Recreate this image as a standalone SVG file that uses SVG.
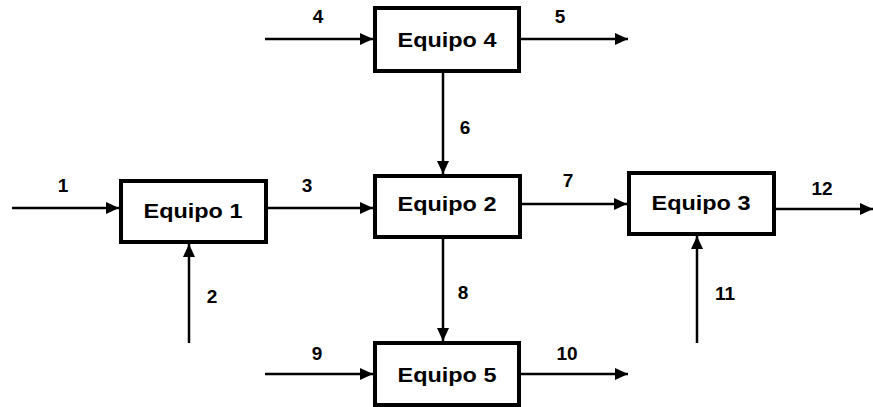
<svg xmlns="http://www.w3.org/2000/svg" width="873" height="407" viewBox="0 0 873 407">
<style>
.box{fill:#fff;stroke:#000;stroke-width:4}
.nt{font-family:"Liberation Sans",Arial,sans-serif;font-weight:bold;font-size:21px;text-anchor:middle;fill:#000}
.lb{font-family:"Liberation Sans",Arial,sans-serif;font-weight:bold;font-size:19px;text-anchor:middle;fill:#000}
.c{stroke:#000;stroke-width:2.5;fill:none;marker-end:url(#ah)}
</style>
<defs>
<marker id="ah" markerUnits="userSpaceOnUse" markerWidth="14" markerHeight="12" refX="13" refY="6" orient="auto">
<path d="M0,0 L13,6 L0,12 Z" fill="#000"/>
</marker>
</defs>
<rect width="873" height="407" fill="#fff"/>
<g id="connectors">
<line class="c" x1="12" y1="208" x2="119" y2="208"/>
<line class="c" x1="189" y1="343" x2="189" y2="244"/>
<line class="c" x1="266" y1="208" x2="373" y2="208"/>
<line class="c" x1="265" y1="39" x2="373" y2="39"/>
<line class="c" x1="519" y1="39" x2="628" y2="39"/>
<line class="c" x1="443" y1="71" x2="443" y2="174"/>
<line class="c" x1="520" y1="204" x2="627" y2="204"/>
<line class="c" x1="774" y1="209" x2="873" y2="209"/>
<line class="c" x1="697" y1="343" x2="697" y2="236"/>
<line class="c" x1="443" y1="237" x2="443" y2="341"/>
<line class="c" x1="265" y1="374" x2="373" y2="374"/>
<line class="c" x1="519" y1="374" x2="628" y2="374"/>
<text class="lb" x="63" y="192">1</text>
<text class="lb" x="212" y="303">2</text>
<text class="lb" x="307" y="192">3</text>
<text class="lb" x="318" y="23">4</text>
<text class="lb" x="560" y="23">5</text>
<text class="lb" x="465" y="134">6</text>
<text class="lb" x="568" y="187">7</text>
<text class="lb" x="463" y="299">8</text>
<text class="lb" x="317" y="360">9</text>
<text class="lb" x="567" y="360">10</text>
<text class="lb" x="725" y="300">11</text>
<text class="lb" x="822" y="195">12</text>
</g>
<g id="equipo1">
<rect class="box" x="121" y="181" width="145" height="61"/>
<text class="nt" x="193" y="218" textLength="99" lengthAdjust="spacingAndGlyphs">Equipo 1</text>
</g>
<g id="equipo2">
<rect class="box" x="375" y="176" width="145" height="61"/>
<text class="nt" x="447" y="211" textLength="99" lengthAdjust="spacingAndGlyphs">Equipo 2</text>
</g>
<g id="equipo3">
<rect class="box" x="629" y="173" width="145" height="61"/>
<text class="nt" x="701" y="210" textLength="99" lengthAdjust="spacingAndGlyphs">Equipo 3</text>
</g>
<g id="equipo4">
<rect class="box" x="375" y="8" width="144" height="63"/>
<text class="nt" x="447" y="47" textLength="99" lengthAdjust="spacingAndGlyphs">Equipo 4</text>
</g>
<g id="equipo5">
<rect class="box" x="375" y="343" width="144" height="62"/>
<text class="nt" x="447" y="382" textLength="99" lengthAdjust="spacingAndGlyphs">Equipo 5</text>
</g>
</svg>
